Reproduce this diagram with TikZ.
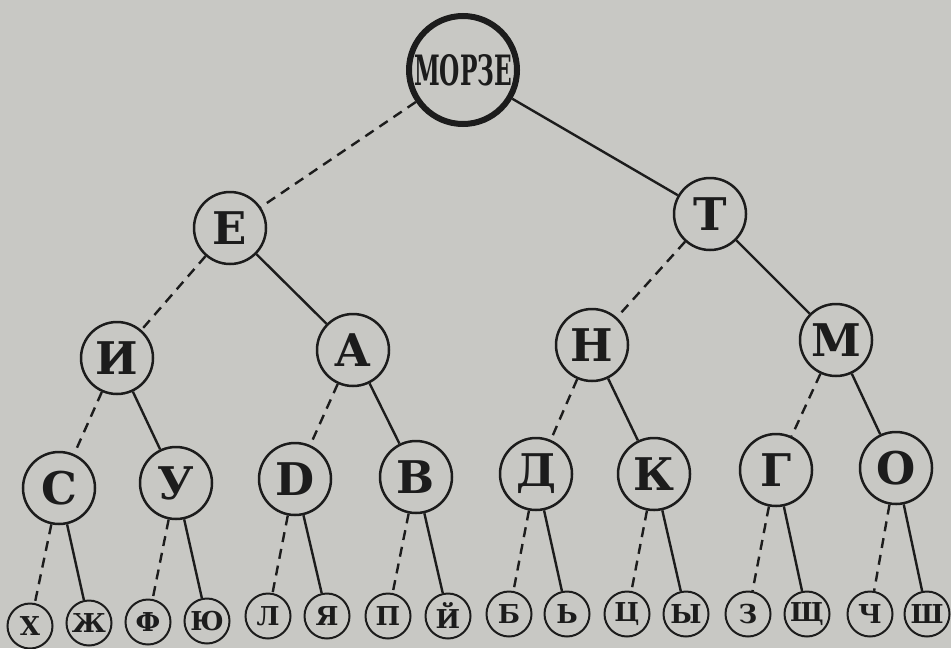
\documentclass[tikz,border=0pt]{standalone}
\usepackage{fontspec}
\usepackage{graphicx}
\setmainfont{DejaVu Serif}
\definecolor{paper}{RGB}{200,200,196}
\definecolor{ink}{RGB}{28,28,28}
\begin{document}
\begin{tikzpicture}[x=0.5pt,y=-0.5pt,
  big/.style={circle,draw=ink,line width=1.25pt,minimum size=36pt,inner sep=0pt,
    font=\fontsize{22.5}{24}\selectfont\bfseries,text=ink},
  small/.style={circle,draw=ink,line width=1pt,minimum size=22.5pt,inner sep=0pt,
    font=\fontsize{13}{14}\selectfont\bfseries,text=ink},
  rootnode/.style={circle,draw=ink,line width=3pt,minimum size=54pt,inner sep=0pt,text=ink},
  dotline/.style={draw=ink,line width=1.2pt,dash pattern=on 5pt off 3.5pt},
  dashline/.style={draw=ink,line width=1.2pt}]
\fill[paper] (0,0) rectangle (951,648);
\useasboundingbox (0,0) rectangle (951,648);
% root
\node[rootnode] (r) at (463,70) {\resizebox{49pt}{15.5pt}{\bfseries МОРЗЕ}};
% level 1
\node[big] (e) at (230,228) {Е};
\node[big] (t) at (710,214) {Т};
% level 2
\node[big] (i) at (117,358) {И};
\node[big] (a) at (353,350) {А};
\node[big] (n) at (592,345) {Н};
\node[big] (m) at (836,340) {М};
% level 3
\node[big] (s) at (59,488) {С};
\node[big] (u) at (176,483) {У};
\node[big] (p) at (295,479) {D};
\node[big] (v) at (416,477) {В};
\node[big] (d) at (536,474) {Д};
\node[big] (k) at (654,474) {К};
\node[big] (g) at (776,470) {Г};
\node[big] (o) at (896,468) {О};
% level 4
\node[small] (x) at (30,626) {Х};
\node[small] (zh) at (89,623) {Ж};
\node[small] (f) at (148,622) {Ф};
\node[small] (yu) at (207,621) {Ю};
\node[small] (l) at (268,616) {Л};
\node[small] (ya) at (327,616) {Я};
\node[small] (pp) at (388,616) {П};
\node[small] (j) at (448,616) {Й};
\node[small] (b) at (509,614) {Б};
\node[small] (soft) at (567,614) {Ь};
\node[small] (c) at (627,614) {Ц};
\node[small] (y) at (686,614) {Ы};
\node[small] (z) at (748,614) {З};
\node[small] (shch) at (807,614) {Щ};
\node[small] (ch) at (870,614) {Ч};
\node[small] (sh) at (927,614) {Ш};
% connectors: dot = dashed (left), dash = solid (right)
\draw[dotline] (r) -- (e);  \draw[dashline] (r) -- (t);
\draw[dotline] (e) -- (i);  \draw[dashline] (e) -- (a);
\draw[dotline] (t) -- (n);  \draw[dashline] (t) -- (m);
\draw[dotline] (i) -- (s);  \draw[dashline] (i) -- (u);
\draw[dotline] (a) -- (p);  \draw[dashline] (a) -- (v);
\draw[dotline] (n) -- (d);  \draw[dashline] (n) -- (k);
\draw[dotline] (m) -- (g);  \draw[dashline] (m) -- (o);
\draw[dotline] (s) -- (x);  \draw[dashline] (s) -- (zh);
\draw[dotline] (u) -- (f);  \draw[dashline] (u) -- (yu);
\draw[dotline] (p) -- (l);  \draw[dashline] (p) -- (ya);
\draw[dotline] (v) -- (pp); \draw[dashline] (v) -- (j);
\draw[dotline] (d) -- (b);  \draw[dashline] (d) -- (soft);
\draw[dotline] (k) -- (c);  \draw[dashline] (k) -- (y);
\draw[dotline] (g) -- (z);  \draw[dashline] (g) -- (shch);
\draw[dotline] (o) -- (ch); \draw[dashline] (o) -- (sh);
\end{tikzpicture}
\end{document}
